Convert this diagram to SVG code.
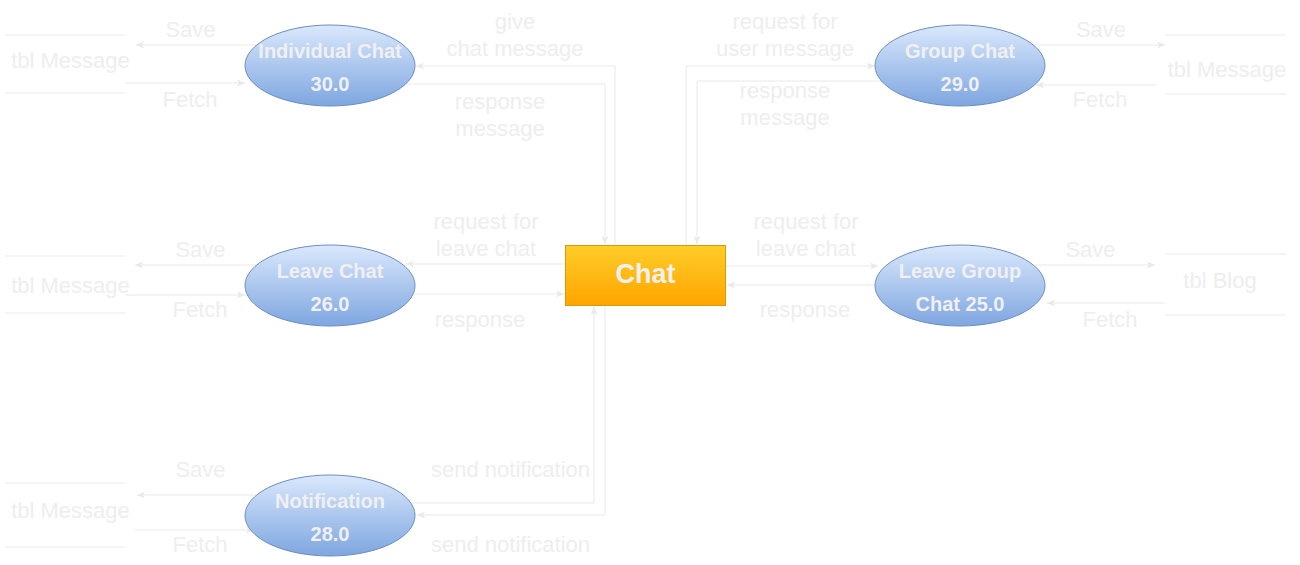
<svg xmlns="http://www.w3.org/2000/svg" width="1300" height="565" viewBox="0 0 1300 565">
<style>
.lbl{font-family:"Liberation Sans",Arial,sans-serif;font-size:22px;fill:#eeeeee;text-anchor:middle}
.ntx{font-family:"Liberation Sans",Arial,sans-serif;font-size:20px;font-weight:bold;fill:#f0f0f0;text-anchor:middle}
.ctx{font-family:"Liberation Sans",Arial,sans-serif;font-size:27px;font-weight:bold;fill:#f0f0f0;text-anchor:middle}
.con{fill:none;stroke:#e9e9e9;stroke-width:1}
.arr{marker-end:url(#ah)}
.ell{fill:url(#gb);stroke:#6c8ebf;stroke-width:1}
.store{stroke:#ebebeb;stroke-width:1}
</style>
<defs>
<linearGradient id="gb" x1="0" y1="0" x2="0" y2="1">
<stop offset="0" stop-color="#dae8fc"/>
<stop offset="1" stop-color="#7ea6e0"/>
</linearGradient>
<linearGradient id="go" x1="0" y1="0" x2="0" y2="1">
<stop offset="0" stop-color="#ffcd28"/>
<stop offset="1" stop-color="#ffa500"/>
</linearGradient>
<marker id="ah" markerWidth="9" markerHeight="8" refX="8" refY="3.5" orient="auto" markerUnits="userSpaceOnUse">
<path d="M0,0 L8,3.5 L0,7 L2,3.5 Z" fill="#e9e9e9"/>
</marker>
</defs>
<rect width="1300" height="565" fill="#ffffff"/>

<g id="connectors">
<path class="con arr" d="M256 45 H136"/>
<path class="con arr" d="M125 83 H245"/>
<path class="con arr" d="M615 245 V66 H416"/>
<path class="con arr" d="M406 84 H605 V244"/>
<path class="con arr" d="M686 245 V66 H875"/>
<path class="con arr" d="M882 81 H697 V244"/>
<path class="con arr" d="M1033 45 H1165"/>
<path class="con arr" d="M1156 85 H1036"/>
<path class="con arr" d="M258 265 H135"/>
<path class="con arr" d="M125 295 H245"/>
<path class="con arr" d="M565 264 H406"/>
<path class="con arr" d="M413 294 H564"/>
<path class="con arr" d="M726 266 H878"/>
<path class="con arr" d="M878 285 H727"/>
<path class="con arr" d="M1035 265 H1155"/>
<path class="con arr" d="M1165 303 H1047"/>
<path class="con arr" d="M255 495 H137"/>
<path class="con arr" d="M135 530 H254"/>
<path class="con arr" d="M410 503 H594 V307"/>
<path class="con arr" d="M605 306 V515 H417"/>
</g>

<g id="store-individual">
<line class="store" x1="5" y1="35" x2="125" y2="35"/>
<line class="store" x1="5" y1="93" x2="125" y2="93"/>
<text class="lbl" x="70.5" y="67.5">tbl Message</text>
</g>
<g id="store-group">
<line class="store" x1="1165" y1="35" x2="1286" y2="35"/>
<line class="store" x1="1165" y1="94" x2="1286" y2="94"/>
<text class="lbl" x="1227" y="76.5">tbl Message</text>
</g>
<g id="store-leave">
<line class="store" x1="5" y1="256" x2="125" y2="256"/>
<line class="store" x1="5" y1="313" x2="125" y2="313"/>
<text class="lbl" x="70.5" y="292.5">tbl Message</text>
</g>
<g id="store-blog">
<line class="store" x1="1165" y1="254" x2="1286" y2="254"/>
<line class="store" x1="1165" y1="315" x2="1286" y2="315"/>
<text class="lbl" x="1220" y="287.5">tbl Blog</text>
</g>
<g id="store-notification">
<line class="store" x1="5" y1="483" x2="125" y2="483"/>
<line class="store" x1="5" y1="547" x2="125" y2="547"/>
<text class="lbl" x="70.5" y="517.5">tbl Message</text>
</g>

<g id="labels">
<text class="lbl" x="190.5" y="37">Save</text>
<text class="lbl" x="190" y="107">Fetch</text>
<text class="lbl" x="515" y="29">give</text>
<text class="lbl" x="515" y="56">chat message</text>
<text class="lbl" x="500" y="109">response</text>
<text class="lbl" x="500" y="136">message</text>
<text class="lbl" x="785" y="29">request for</text>
<text class="lbl" x="785" y="56">user message</text>
<text class="lbl" x="785" y="98">response</text>
<text class="lbl" x="785" y="125">message</text>
<text class="lbl" x="1101" y="37">Save</text>
<text class="lbl" x="1100" y="107">Fetch</text>
<text class="lbl" x="200.5" y="257">Save</text>
<text class="lbl" x="200" y="317">Fetch</text>
<text class="lbl" x="486" y="229">request for</text>
<text class="lbl" x="486" y="256">leave chat</text>
<text class="lbl" x="480" y="326.5">response</text>
<text class="lbl" x="806" y="229">request for</text>
<text class="lbl" x="806" y="256">leave chat</text>
<text class="lbl" x="805" y="316.5">response</text>
<text class="lbl" x="1090.5" y="257">Save</text>
<text class="lbl" x="1110" y="327">Fetch</text>
<text class="lbl" x="200.5" y="477">Save</text>
<text class="lbl" x="200" y="552">Fetch</text>
<text class="lbl" x="510.5" y="477">send notification</text>
<text class="lbl" x="510.5" y="552">send notification</text>
</g>

<g id="node-individual-chat">
<ellipse class="ell" cx="330" cy="65.5" rx="85" ry="40.5"/>
<text class="ntx" x="330" y="58">Individual Chat</text>
<text class="ntx" x="330" y="90.5">30.0</text>
</g>
<g id="node-group-chat">
<ellipse class="ell" cx="960" cy="65.5" rx="85" ry="40.5"/>
<text class="ntx" x="960" y="58">Group Chat</text>
<text class="ntx" x="960" y="90.5">29.0</text>
</g>
<g id="node-leave-chat">
<ellipse class="ell" cx="330" cy="285.5" rx="85" ry="40.5"/>
<text class="ntx" x="330" y="278">Leave Chat</text>
<text class="ntx" x="330" y="311">26.0</text>
</g>
<g id="node-leave-group-chat">
<ellipse class="ell" cx="960" cy="285.5" rx="85" ry="40.5"/>
<text class="ntx" x="960" y="278">Leave Group</text>
<text class="ntx" x="960" y="311">Chat 25.0</text>
</g>
<g id="node-notification">
<ellipse class="ell" cx="330" cy="515.5" rx="85" ry="40.5"/>
<text class="ntx" x="330" y="508">Notification</text>
<text class="ntx" x="330" y="540.5">28.0</text>
</g>
<g id="node-chat">
<rect x="565.5" y="245.5" width="160" height="60" fill="url(#go)" stroke="#d79b00" stroke-width="1"/>
<text class="ctx" x="645.5" y="283">Chat</text>
</g>
</svg>
